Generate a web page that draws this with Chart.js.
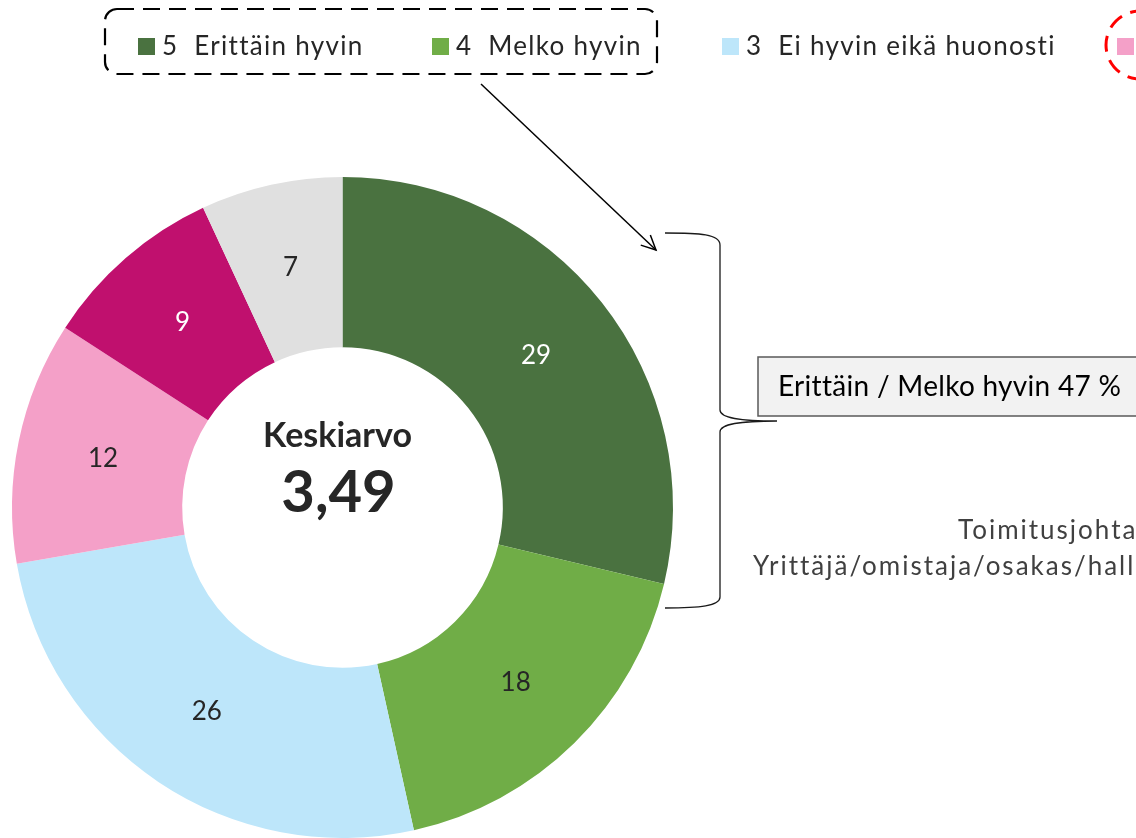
<!DOCTYPE html>
<html>
<head>
<meta charset="utf-8">
<script src="https://cdn.jsdelivr.net/npm/chart.js@4/dist/chart.umd.min.js"></script>
<style>
  html, body { margin: 0; padding: 0; background: #fff; overflow: hidden; }
  #wrap { position: relative; width: 1136px; height: 838px; }
</style>
</head>
<body>
<div id="wrap"><canvas id="donutChart" width="1136" height="838"></canvas></div>
<script>
// ── Data ─────────────────────────────────────────────────────────────────────
const CATEGORIES = ['5  Erittäin hyvin', '4  Melko hyvin', '3  Ei hyvin eikä huonosti',
                    '2  Melko huonosti', '1  Erittäin huonosti', 'En osaa sanoa'];
const VALUES = [29, 18, 26, 12, 9, 7];
const COLORS = ['#4a7240', '#70ad47', '#bde6fa', '#f4a0c8', '#c0106e', '#e0e0e0'];
const LABEL_COLORS = ['#ffffff', '#262626', '#262626', '#262626', '#ffffff', '#262626'];
const AVG_TITLE = 'Keskiarvo';
const AVG_VALUE = '3,49';
const SUMMARY_TEXT = 'Erittäin / Melko hyvin 47 %';
const GROUP_LINES = ['Toimitusjohtaja', 'Yrittäjä/omistaja/osakas/hallituksen jäsen'];

const FONT = "Lato, 'Open Sans', sans-serif";

// ── Slice value labels ────────────────────────────────────────────────────────
const sliceLabels = {
  id: 'sliceLabels',
  afterDatasetsDraw(chart) {
    const { ctx } = chart;
    const meta = chart.getDatasetMeta(0);
    ctx.save();
    ctx.font = `26px ${FONT}`;
    ctx.textAlign = 'center';
    ctx.textBaseline = 'middle';
    meta.data.forEach((arc, i) => {
      const p = arc.tooltipPosition();
      ctx.fillStyle = LABEL_COLORS[i];
      ctx.fillText(String(VALUES[i]), p.x + 1, p.y);
    });
    ctx.restore();
  }
};

// ── Centre text + annotations (legend, arrow, brace, box) ────────────────────
const extras = {
  id: 'extras',
  afterDraw(chart) {
    const { ctx } = chart;
    const meta = chart.getDatasetMeta(0);
    const arc = meta.data[0];
    ctx.save();

    // centre text
    ctx.fillStyle = '#262626';
    ctx.textAlign = 'center';
    ctx.textBaseline = 'middle';
    ctx.font = `bold 34px ${FONT}`;
    ctx.fillText(AVG_TITLE, arc.x - 5, arc.y - 71);
    ctx.font = `bold 58px ${FONT}`;
    ctx.fillText(AVG_VALUE, arc.x - 4, arc.y - 14);

    // legend
    const legendX = [138, 432, 722, 1117, 1400, 1700];
    ctx.font = `26px ${FONT}`;
    ctx.letterSpacing = '1.3px';
    ctx.textAlign = 'left';
    ctx.textBaseline = 'middle';
    CATEGORIES.forEach((c, i) => {
      ctx.fillStyle = COLORS[i];
      ctx.fillRect(legendX[i], 38, 17, 17);
      ctx.fillStyle = '#262626';
      ctx.fillText(c, legendX[i] + 24, 47);
    });
    ctx.letterSpacing = '0px';

    // dashed rounded box round the first two legend entries
    ctx.strokeStyle = '#000';
    ctx.lineWidth = 2.2;
    ctx.setLineDash([17, 9]);
    ctx.beginPath();
    ctx.roundRect(105, 9, 552, 65, 12);
    ctx.stroke();

    // red dashed circle
    ctx.strokeStyle = '#ff0000';
    ctx.lineWidth = 3;
    ctx.setLineDash([16, 9]);
    ctx.beginPath();
    ctx.arc(1140, 45, 34, 0, Math.PI * 2);
    ctx.stroke();
    ctx.setLineDash([]);

    // arrow
    ctx.strokeStyle = '#000';
    ctx.lineWidth = 1.5;
    ctx.beginPath();
    ctx.moveTo(481, 84);
    ctx.lineTo(656, 250);
    ctx.stroke();
    const ang = Math.atan2(250 - 84, 656 - 481);
    ctx.beginPath();
    ctx.moveTo(656 - 16 * Math.cos(ang - 0.45), 250 - 16 * Math.sin(ang - 0.45));
    ctx.lineTo(656, 250);
    ctx.lineTo(656 - 16 * Math.cos(ang + 0.45), 250 - 16 * Math.sin(ang + 0.45));
    ctx.stroke();

    // brace
    ctx.strokeStyle = '#1a1a1a';
    ctx.lineWidth = 1.3;
    ctx.beginPath();
    ctx.moveTo(665, 233);
    ctx.bezierCurveTo(700, 233, 720, 234, 720, 245);
    ctx.lineTo(720, 410);
    ctx.bezierCurveTo(720, 418, 740, 421, 777, 421);
    ctx.bezierCurveTo(740, 421, 720, 424, 720, 432);
    ctx.lineTo(720, 597);
    ctx.bezierCurveTo(720, 606, 700, 608, 665, 608);
    ctx.stroke();

    // summary box
    ctx.fillStyle = '#f2f2f2';
    ctx.fillRect(758, 357, 400, 59);
    ctx.strokeStyle = '#595959';
    ctx.lineWidth = 1.5;
    ctx.strokeRect(758, 357, 400, 59);
    ctx.fillStyle = '#000';
    ctx.font = `28px ${FONT}`;
    ctx.letterSpacing = '0.3px';
    ctx.fillText(SUMMARY_TEXT, 778, 387);

    // group text (cut at the right edge)
    ctx.fillStyle = '#404040';
    ctx.font = `26px ${FONT}`;
    ctx.letterSpacing = '2px';
    ctx.fillText(GROUP_LINES[0], 958, 531);
    ctx.fillText(GROUP_LINES[1], 753, 567);

    ctx.restore();
  }
};

new Chart(document.getElementById('donutChart'), {
  type: 'doughnut',
  data: {
    labels: CATEGORIES,
    datasets: [{
      data: VALUES,
      backgroundColor: COLORS,
      borderWidth: 0,
    }],
  },
  options: {
    responsive: false,
    animation: false,
    cutout: '48.5%',
    layout: { padding: { left: 12, top: 177, right: 463, bottom: 0 } },
    plugins: { legend: { display: false }, tooltip: { enabled: false } },
  },
  plugins: [sliceLabels, extras],
});
</script>
</body>
</html>
